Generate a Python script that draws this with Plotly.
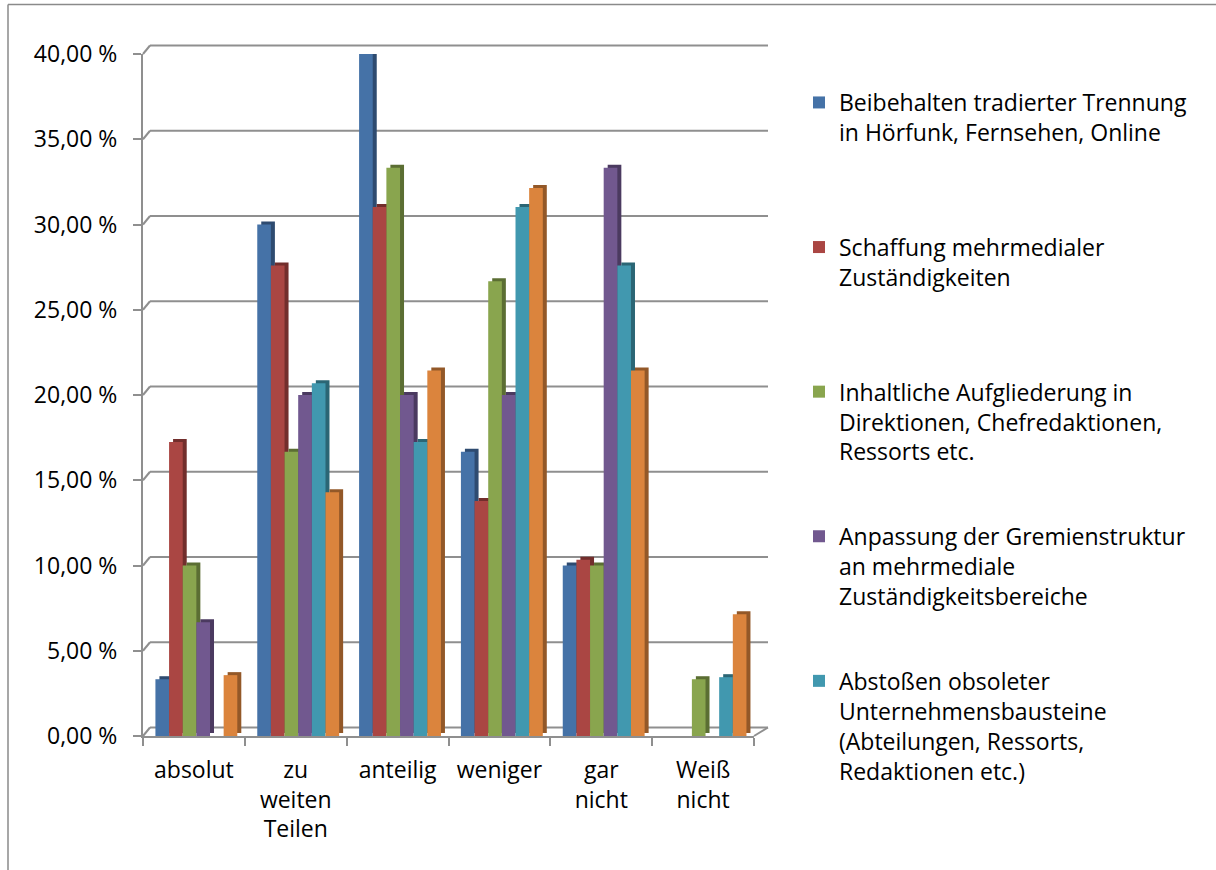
import plotly.graph_objects as go

# ---------------- data ----------------
categories = ["absolut", "zu<br>weiten<br>Teilen", "anteilig", "weniger", "gar<br>nicht", "Weiß<br>nicht"]

series_names = [
    "Beibehalten tradierter Trennung<br>in Hörfunk, Fernsehen, Online",
    "Schaffung mehrmedialer<br>Zuständigkeiten",
    "Inhaltliche Aufgliederung in<br>Direktionen, Chefredaktionen,<br>Ressorts etc.",
    "Anpassung der Gremienstruktur<br>an mehrmediale<br>Zuständigkeitsbereiche",
    "Abstoßen obsoleter<br>Unternehmensbausteine<br>(Abteilungen, Ressorts,<br>Redaktionen etc.)",
    "Weitere Angabe",
]
show_in_legend = [True, True, True, True, True, False]

beibehalten = [3.33, 30.00, 40.00, 16.67, 10.00, 0.00]
schaffung = [17.24, 27.59, 31.03, 13.79, 10.34, 0.00]
aufgliederung = [10.00, 16.67, 33.33, 26.67, 10.00, 3.33]
anpassung = [6.67, 20.00, 20.00, 20.00, 33.33, 0.00]
abstossen = [0.00, 20.69, 17.24, 31.03, 27.59, 3.45]
weitere = [3.57, 14.29, 21.43, 32.14, 21.43, 7.14]
series_values = [beibehalten, schaffung, aufgliederung, anpassung, abstossen, weitere]

tick_vals = [0, 5, 10, 15, 20, 25, 30, 35, 40]
tick_text = ["0,00 %", "5,00 %", "10,00 %", "15,00 %", "20,00 %",
             "25,00 %", "30,00 %", "35,00 %", "40,00 %"]

front_colors = ["#4572A7", "#AA4643", "#89A54E", "#71588F", "#4198AF", "#DB843D"]
side_colors = ["#2E4B70", "#722E2C", "#5B6E33", "#4B3A60", "#2B6675", "#935828"]

# ---------------- geometry (pixels) ----------------
W, H = 1216, 870
L, R, T, B = 143, 462, 54, 134
plot_w = W - L - R
plot_h = H - T - B
y_min, y_max = 0, 40

bar_w = 0.134
group_start = -0.378
depth_x = 4 / plot_w * len(categories)            # side-face depth in category units
depth_y = 3 / plot_h * (y_max - y_min)            # side-face depth in value units

FONT = "Open Sans"
GRID = "#8F8F8F"

fig = go.Figure()

# 3D side faces (darker), drawn first
for i, vals in enumerate(series_values):
    fig.add_trace(go.Bar(
        x=categories, y=vals, base=[depth_y] * len(vals),
        offset=group_start + i * bar_w + depth_x, width=bar_w,
        marker=dict(color=side_colors[i], line=dict(width=0)),
        legendgroup=f"g{i}", showlegend=False, hoverinfo="skip",
    ))

# front faces
for i, vals in enumerate(series_values):
    fig.add_trace(go.Bar(
        x=categories, y=vals,
        offset=group_start + i * bar_w, width=bar_w,
        name=series_names[i] + "<br> " * (4 - series_names[i].count("<br>") - 1),
        marker=dict(color=front_colors[i], line=dict(width=0)),
        legendgroup=f"g{i}", showlegend=show_in_legend[i],
        hovertemplate="%{x}: %{y:.2f} %<extra></extra>",
    ))

# back-wall gridlines (perspective offset) + connectors
dxp = 7 / plot_w
dyp = 8.5 / plot_h
x_end = 1 + 14 / plot_w
shapes = []
for v in tick_vals:
    yp = (v - y_min) / (y_max - y_min)
    shapes.append(dict(type="line", xref="paper", yref="paper", layer="below",
                       x0=dxp, x1=x_end, y0=yp + dyp, y1=yp + dyp,
                       line=dict(color=GRID, width=2)))
    shapes.append(dict(type="line", xref="paper", yref="paper", layer="below",
                       x0=0, x1=dxp, y0=yp, y1=yp + dyp,
                       line=dict(color=GRID, width=2)))
# floor right edge
shapes.append(dict(type="line", xref="paper", yref="paper", layer="below",
                   x0=1, x1=x_end, y0=0, y1=dyp, line=dict(color=GRID, width=2)))
# outer chart border (top and left visible)
bx = (8 - L) / plot_w
by_top = (H - B - 4.5) / plot_h
shapes.append(dict(type="line", xref="paper", yref="paper",
                   x0=bx, x1=(W + 5 - L) / plot_w, y0=by_top, y1=by_top,
                   line=dict(color="#8A8A8A", width=1.5)))
shapes.append(dict(type="line", xref="paper", yref="paper",
                   x0=bx, x1=bx, y0=by_top, y1=-(B + 5) / plot_h,
                   line=dict(color="#8A8A8A", width=1.5)))

fig.update_layout(
    width=W, height=H,
    margin=dict(l=L, r=R, t=T, b=B, pad=0, autoexpand=False),
    paper_bgcolor="white", plot_bgcolor="white",
    barmode="overlay",
    font=dict(family=FONT, size=23, color="#000000"),
    showlegend=True,
    legend=dict(
        xref="container", yref="container",
        x=799 / W, y=1 - 81 / H, xanchor="left", yanchor="top",
        valign="top", traceorder="grouped", tracegroupgap=22,
        maxheight=860,
        font=dict(family=FONT, size=23, color="#000000"),
        bgcolor="rgba(0,0,0,0)", borderwidth=0,
    ),
    shapes=shapes,
)

fig.update_xaxes(
    type="category", categoryorder="array", categoryarray=categories,
    automargin=False,
    showgrid=False, zeroline=False,
    showline=True, linecolor=GRID, linewidth=2,
    ticks="outside", tickson="boundaries", ticklen=8, tickwidth=2, tickcolor=GRID,
    ticklabelstandoff=12,
    tickfont=dict(family=FONT, size=23, color="#000000"),
)
fig.update_yaxes(
    range=[y_min, y_max], tickmode="array", tickvals=tick_vals, ticktext=tick_text,
    automargin=False,
    showgrid=False, zeroline=False,
    showline=True, linecolor=GRID, linewidth=2,
    ticks="outside", ticklen=8, tickwidth=2, tickcolor=GRID,
    ticklabelstandoff=11,
    tickfont=dict(family=FONT, size=23, color="#000000"),
)

fig.write_html(
    "out.html",
    config={"displayModeBar": False},
    post_script="document.body.style.margin='0';document.body.style.overflow='hidden';",
)
